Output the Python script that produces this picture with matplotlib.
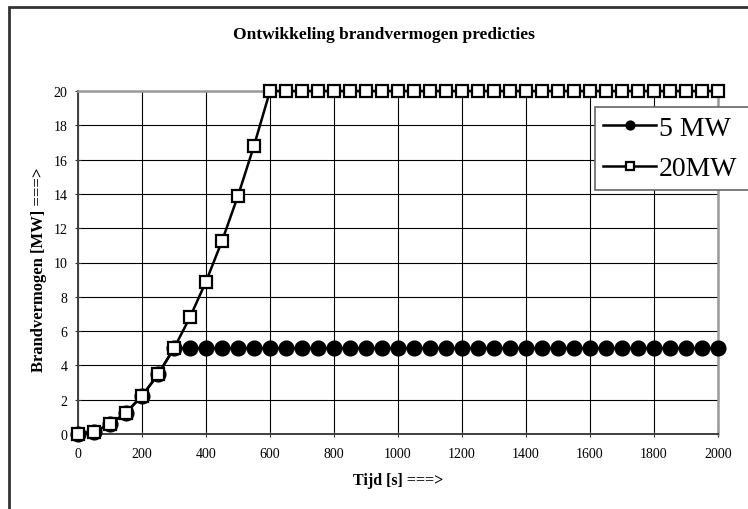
import matplotlib.pyplot as plt
from matplotlib.patches import Rectangle

# time axis [s] and predicted heat release [MW]
tijd = list(range(0, 2001, 50))
q_5mw = [0, 0.14, 0.56, 1.25, 2.22, 3.47, 5.0,
         5, 5, 5, 5, 5, 5, 5, 5, 5, 5, 5, 5, 5, 5, 5, 5, 5, 5, 5, 5,
         5, 5, 5, 5, 5, 5, 5, 5, 5, 5, 5, 5, 5, 5]
q_20mw = [0, 0.14, 0.56, 1.25, 2.22, 3.47, 5.0, 6.81, 8.89, 11.25, 13.89, 16.81, 20,
          20, 20, 20, 20, 20, 20, 20, 20, 20, 20, 20, 20, 20, 20, 20,
          20, 20, 20, 20, 20, 20, 20, 20, 20, 20, 20, 20, 20]

plt.rcParams["font.family"] = ["Liberation Serif", "DejaVu Serif"]

W, H = 748, 510
fig = plt.figure(figsize=(W / 100, H / 100), dpi=100)
ax = fig.add_axes([78 / W, (H - 435) / H, (718 - 78) / W, (435 - 92) / H])

# ---------------------------
# SERIES
# ---------------------------
ax.plot(tijd, q_5mw, color="black", lw=1.8, marker="o", ms=10.6,
        mfc="black", mec="black", label="5 MW", clip_on=False, zorder=3)
ax.plot(tijd, q_20mw, color="black", lw=1.8, marker="s", ms=8.6,
        mfc="white", mec="black", mew=1.6, label="20MW", clip_on=False, zorder=4)

ax.set_xlim(0, 2000)
ax.set_ylim(0, 20)
ax.set_xticks(range(0, 2001, 200))
ax.set_yticks(range(0, 21, 2))
ax.grid(True, color="black", lw=0.8)
ax.set_axisbelow(True)
ax.tick_params(direction="inout", length=5, width=0.8, labelsize=10,
               color="#333333")
ax.tick_params(axis="x", pad=7)
ax.tick_params(axis="y", pad=5)

for side in ("left", "bottom"):
    ax.spines[side].set_color("#404040")
    ax.spines[side].set_linewidth(1.4)
for side in ("top", "right"):
    ax.spines[side].set_color("#9a9a9a")
    ax.spines[side].set_linewidth(1.8)

ax.set_xlabel("Tijd [s] ===>", fontsize=11.5, fontweight="bold")
ax.set_ylabel("Brandvermogen [MW] ===>", fontsize=12, fontweight="bold")
ax.xaxis.set_label_coords(0.5, (435 - 473) / 343)
ax.yaxis.set_label_coords((47 - 78) / 640, (435 - 270) / 343)
fig.text(384 / W, 1 - 35 / H, "Ontwikkeling brandvermogen predicties",
         ha="center", va="center", fontsize=12.5, fontweight="bold")

# legend box runs on past the right edge of the chart
leg = ax.legend(loc="upper left", bbox_to_anchor=(595 / W, 1 - 108 / H, 175 / W, 0),
                bbox_transform=fig.transFigure, mode="expand", fontsize=20,
                markerscale=0.6, handlelength=1.9, handletextpad=0.1, borderpad=0.3,
                borderaxespad=0, labelspacing=0.55, fancybox=False, framealpha=1)
leg.get_frame().set_edgecolor("#666666")
leg.get_frame().set_linewidth(1.2)

# chart border
fig.patches.append(Rectangle((9 / W, -0.1), 1.2, 1.1 - 8 / H, transform=fig.transFigure,
                             fill=False, edgecolor="#333333", lw=2))

fig.savefig("out.png", dpi=100)
